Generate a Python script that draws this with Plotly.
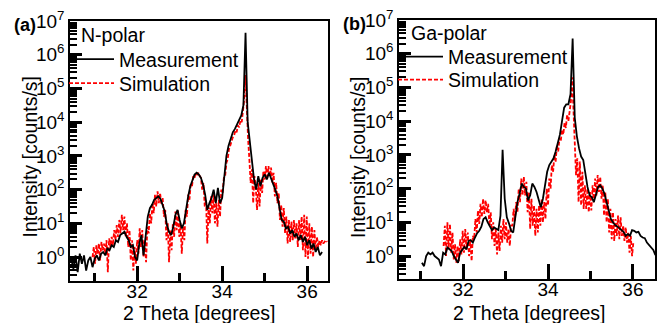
import numpy as np
import plotly.graph_objects as go

meas_a_x0, meas_a_dx = 30.45, 0.05
meas_a_log = [
    -0.05, -0.35, 0.05, -0.45, 0.1, -0.2, 0.05, -0.4, -0.1, 0.0,
    -0.3, -0.05, 0.05, -0.1, 0.1, 0.15, 0.05, 0.25, 0.2, 0.35,
    0.3, 0.5, 0.45, 0.65, 0.7, 0.75, 0.6, 0.5, 0.3, 0.35,
    0.0, -0.1, 0.4, 0.65, 0.05, 0.7, 1.2, 1.45, 1.55, 1.7,
    1.75, 1.8, 1.72, 1.5, 1.35, 0.95, 0.75, 0.65, 0.9, 1.25,
    1.4, 1.1, 0.85, 1.0, 1.45, 1.8, 2.1, 2.3, 2.45, 2.5,
    2.45, 2.35, 2.15, 1.85, 1.4, 1.6, 1.75, 2.0, 1.6, 2.05,
    1.6, 1.75, 2.5, 3.0, 3.3, 3.5, 3.7, 3.8, 3.95, 4.05,
    4.2, 4.5, 6.65, 4.0, 3.4, 2.9, 2.3, 2.0, 2.4, 2.1,
    2.35, 2.45, 2.3, 2.5, 2.35, 2.15, 2.0, 1.8, 1.4, 1.1,
    1.05, 0.85, 0.9, 0.7, 0.8, 0.6, 0.7, 0.5, 0.65, 0.45,
    0.6, 0.35, 0.5, 0.25, 0.4, 0.15, 0.3, 0.05, 0.15,
]
sim_a_x0, sim_a_dx = 30.95, 0.03
sim_a_log = [
    0.0, 0.3, -0.2, 0.35, 0.1, 0.4, -0.1, 0.45, 0.2, 0.4,
    0.1, 0.5, -0.45, 0.55, 0.3, 0.6, 0.35, 0.8, 0.5, 0.95,
    0.6, 1.1, 0.7, 1.25, 0.8, 1.2, 0.6, 1.0, 0.3, 0.8,
    -0.1, 0.5, -0.4, 0.3, -0.2, 0.5, 0.1, 0.85, 0.3, 0.8,
    0.0, 0.5, -0.15, 0.9, 0.7, 1.3, 1.0, 1.6, 1.3, 1.85,
    1.5, 1.95, 1.6, 1.9, 1.55, 1.75, 1.2, 1.4, 0.5, 1.0,
    -0.15, 0.8, 0.2, 1.0, 0.6, 1.35, 0.8, 1.4, 0.6, 1.0,
    0.1, 0.9, 0.5, 1.4, 1.2, 1.85, 1.7, 2.15, 2.1, 2.4,
    2.35, 2.5, 2.45, 2.5, 2.4, 2.35, 2.0, 2.2, 1.5, 1.7,
    0.4, 1.5, 1.0, 1.8, 1.3, 1.85, 1.0, 1.6, 0.9, 1.7,
    1.2, 2.0, 1.9, 2.35, 2.4, 2.8, 2.9, 3.2, 3.3, 3.45,
    3.55, 3.6, 3.75, 3.7, 3.9, 3.85, 4.05, 4.0, 4.3, 4.7,
    5.4, 4.3, 3.5, 2.9, 2.2, 2.6, 1.6, 2.4, 2.1, 1.4,
    2.2, 1.5, 2.3, 1.9, 2.55, 2.3, 2.7, 2.3, 2.7, 2.4,
    2.65, 2.2, 2.5, 1.8, 2.2, 1.6, 1.9, 1.1, 1.55, 0.9,
    1.45, 0.7, 1.2, 0.4, 1.1, 0.45, 1.05, 0.5, 1.1, 0.55,
    1.0, 0.3, 1.1, 0.5, 1.2, 0.2, 1.25, 0.0, 1.2, -0.05,
    1.0, 0.1, 0.9, 0.0, 0.8, 0.2, 0.6, 0.3, 0.5, 0.35,
    0.5, 0.4, 0.45, 0.5, 0.45,
]
meas_b_x0, meas_b_dx = 31.03, 0.05
meas_b_log = [
    -0.2, -0.3, 0.0, 0.1, 0.05, 0.1, 0.0, -0.05, -0.1, -0.3,
    0.1, 0.05, 0.25, 0.2, 0.15, 0.0, -0.1, -0.2, 0.1, 0.2,
    0.27, 0.2, 0.45, 0.47, 0.4, 0.55, 0.68, 0.75, 0.87, 1.1,
    1.15, 1.0, 0.9, 0.77, 0.85, 0.8, 0.77, 1.2, 3.15, 1.7,
    1.15, 0.97, 0.75, 0.7, 1.2, 1.6, 1.85, 2.15, 2.05, 2.0,
    1.65, 1.8, 2.15, 2.05, 1.9, 1.65, 1.45, 1.7, 2.05, 2.5,
    2.7, 2.8, 2.9, 3.1, 3.35, 3.6, 4.0, 4.4, 4.5, 4.5,
    4.8, 6.45, 4.1, 3.55, 3.2, 2.95, 2.85, 2.4, 2.05, 1.8,
    1.75, 1.6, 1.85, 2.05, 2.1, 2.0, 1.85, 1.6, 1.4, 1.1,
    1.0, 0.92, 0.88, 0.82, 0.75, 0.72, 0.6, 0.65, 0.6, 0.77,
    0.75, 0.7, 0.72, 0.6, 0.55, 0.53, 0.4, 0.33, 0.25, 0.18,
    0.03,
]
sim_b_x0, sim_b_dx = 31.54, 0.03
sim_b_log = [
    0.3, 0.9, 0.0, 1.0, 0.2, 0.95, 0.1, 0.7, -0.1, 0.35,
    -0.2, 0.3, -0.15, 0.5, 0.05, 0.75, 0.1, 0.8, 0.2, 0.7,
    0.0, 0.5, -0.15, 0.6, 0.5, 1.1, 0.7, 1.35, 0.95, 1.55,
    1.15, 1.7, 1.25, 1.65, 1.3, 1.55, 0.9, 1.3, 0.5, 1.0,
    0.3, 0.8, 0.05, 0.7, 0.15, 0.9, 0.4, 1.1, 0.5, 1.0,
    0.4, 0.8, 0.3, 0.9, 0.9, 1.4, 1.05, 1.6, 1.3, 2.0,
    1.6, 2.3, 1.8, 2.35, 1.8, 2.2, 1.3, 1.9, 0.8, 1.7,
    0.9, 1.5, 0.6, 1.4, 0.7, 1.5, 0.9, 1.7, 1.0, 1.6,
    1.1, 2.0, 1.5, 2.3, 2.0, 2.7, 2.5, 3.0, 2.8, 3.3,
    3.1, 3.5, 3.4, 3.75, 3.6, 3.95, 3.8, 4.2, 4.0, 4.4,
    4.6, 5.3, 4.3, 3.3, 2.4, 2.9, 1.6, 2.8, 1.5, 2.5,
    1.4, 2.1, 1.4, 2.0, 1.3, 1.9, 1.35, 2.1, 1.6, 2.3,
    1.8, 2.4, 1.9, 2.35, 1.7, 2.1, 1.2, 1.9, 1.0, 1.7,
    0.7, 1.4, 0.5, 1.3, 0.45, 1.1, 0.6, 1.2, 0.5, 1.15,
    0.6, 0.9, 0.45, 0.85, 0.4, 0.7, 0.1, 0.6, 0.0, 0.4,
]

x_tickvals = [32, 34, 36]
x_minor_tickvals = [31, 33, 35]
y_decades = [0, 1, 2, 3, 4, 5, 6, 7]
panel_labels = ["(a)", "(b)"]
polarity_labels = ["N-polar", "Ga-polar"]
series_names = ["Measurement", "Simulation"]


def grid(x0, dx, n):
    return np.round(x0 + dx * np.arange(n), 3)


def to_int(logs):
    return np.power(10.0, np.array(logs))


FONT = "Liberation Sans, Arial, sans-serif"
BLACK = "#000000"
RED = "#ff0000"
W, H = 657, 323

fig = go.Figure()
panels = [
    dict(meas=(meas_a_x0, meas_a_dx, meas_a_log), sim=(sim_a_x0, sim_a_dx, sim_a_log),
         xa="x", ya="y", legends=("legend", "legend2")),
    dict(meas=(meas_b_x0, meas_b_dx, meas_b_log), sim=(sim_b_x0, sim_b_dx, sim_b_log),
         xa="x2", ya="y2", legends=("legend3", "legend4")),
]
for p in panels:
    x0, dx, v = p["sim"]
    fig.add_trace(go.Scatter(x=grid(x0, dx, len(v)), y=to_int(v), mode="lines",
                             name=series_names[1], xaxis=p["xa"], yaxis=p["ya"],
                             legend=p["legends"][1],
                             line=dict(color=RED, width=1.8, dash="4px,2px")))
    x0, dx, v = p["meas"]
    fig.add_trace(go.Scatter(x=grid(x0, dx, len(v)), y=to_int(v), mode="lines",
                             name=series_names[0], xaxis=p["xa"], yaxis=p["ya"],
                             legend=p["legends"][0],
                             line=dict(color=BLACK, width=1.8)))

dom_a_x = [70 / W, 328 / W]
dom_a_y = [1 - 281 / H, 1 - 21 / H]
dom_b_x = [399 / W, 655 / W]
dom_b_y = [1 - 279 / H, 1 - 20 / H]
rng_a_x, rng_a_y = [30.42, 36.49], [-0.71, 7]
rng_b_x, rng_b_y = [30.49, 36.52], [-0.68, 7]
minor_y = [m * 10 ** k for k in range(-1, 7) for m in range(2, 10)]


def xaxis(domain, anchor, rng):
    return dict(domain=domain, anchor=anchor, range=rng, tickmode="array",
                tickvals=x_tickvals, ticks="inside", ticklen=15, tickwidth=2.5,
                tickcolor=BLACK, showline=True, linecolor=BLACK, linewidth=1.5,
                mirror=True, showgrid=False, zeroline=False, ticklabelstandoff=-8,
                tickfont=dict(family=FONT, size=19, color=BLACK),
                minor=dict(tickmode="array", tickvals=x_minor_tickvals, ticks="inside",
                           ticklen=8, tickwidth=2.5, tickcolor=BLACK, showgrid=False))


def yaxis(domain, anchor, rng):
    return dict(domain=domain, anchor=anchor, type="log", range=rng, tickmode="array",
                tickvals=[10 ** k for k in y_decades],
                ticktext=["10<sup>%d</sup>" % k for k in y_decades],
                ticks="inside", ticklen=12, tickwidth=2.5, tickcolor=BLACK,
                showline=True, linecolor=BLACK, linewidth=1.5, mirror=True,
                showgrid=False, zeroline=False,
                tickfont=dict(family=FONT, size=19, color=BLACK),
                minor=dict(tickmode="array", tickvals=minor_y, ticks="inside",
                           ticklen=7, tickwidth=1.5, tickcolor=BLACK, showgrid=False))


legend_common = dict(bgcolor="rgba(0,0,0,0)", borderwidth=0,
                     font=dict(family=FONT, size=19.5, color=BLACK),
                     itemwidth=45, xanchor="left", yanchor="middle")

fig.update_layout(
    width=W, height=H, autosize=False,
    margin=dict(l=0, r=0, t=0, b=0, pad=0, autoexpand=False),
    paper_bgcolor="white", plot_bgcolor="white", showlegend=True,
    xaxis=xaxis(dom_a_x, "y", rng_a_x),
    yaxis=yaxis(dom_a_y, "x", rng_a_y),
    xaxis2=xaxis(dom_b_x, "y2", rng_b_x),
    yaxis2=yaxis(dom_b_y, "x2", rng_b_y),
    legend=dict(x=64 / W, y=1 - 59.5 / H, **legend_common),
    legend2=dict(x=64 / W, y=1 - 83.5 / H, **legend_common),
    legend3=dict(x=393 / W, y=1 - 57 / H, **legend_common),
    legend4=dict(x=393 / W, y=1 - 80 / H, **legend_common),
    font=dict(family=FONT, color=BLACK),
)

ann = []
txt = dict(family=FONT, size=19.5, color=BLACK)
ann.append(dict(x=25 / W, y=1 - 25 / H, text="<b>%s</b>" % panel_labels[0],
                font=dict(family=FONT, size=18, color=BLACK)))
ann.append(dict(x=354 / W, y=1 - 24 / H, text="<b>%s</b>" % panel_labels[1],
                font=dict(family=FONT, size=18, color=BLACK)))
ann.append(dict(x=79 / W, y=1 - 35 / H, text=polarity_labels[0], xanchor="left", font=txt))
ann.append(dict(x=409 / W, y=1 - 33 / H, text=polarity_labels[1], xanchor="left", font=txt))
for xc in (199, 529):
    ann.append(dict(x=xc / W, y=1 - 313 / H, text="2 Theta [degrees]", font=txt))
for xc in (29.5, 358):
    ann.append(dict(x=xc / W, y=1 - 157 / H, text="Intensity [counts/s]",
                    textangle=-90, font=txt))
for a in ann:
    a.update(xref="paper", yref="paper", showarrow=False)
    a.setdefault("xanchor", "center")
    a.setdefault("yanchor", "middle")
fig.update_layout(annotations=ann)

fig.write_html("out.html")
